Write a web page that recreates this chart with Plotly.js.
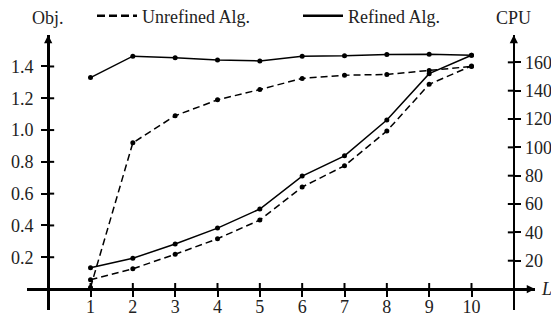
<!DOCTYPE html>
<html><head><meta charset="utf-8">
<script src="https://cdn.plot.ly/plotly-3.0.1.min.js"></script>
<style>html,body{margin:0;padding:0;background:#fff}</style>
</head><body><div id="chart" style="width:551px;height:316px"></div>
<script>
// ---- data ----
const L = [1, 2, 3, 4, 5, 6, 7, 8, 9, 10];
const objUnrefined = [0.01, 0.92, 1.09, 1.19, 1.255, 1.325, 1.345, 1.35, 1.375, 1.40];
const objRefined   = [1.33, 1.465, 1.455, 1.44, 1.435, 1.465, 1.467, 1.475, 1.477, 1.47];
const cpuUnrefined = [6.5, 14.3, 24.5, 35.5, 48.7, 72, 87, 111.5, 144.5, 157.5];
const cpuRefined   = [15, 21.7, 31.8, 43, 56.5, 79.7, 94, 119.3, 152, 165];
const xTicks = [1, 2, 3, 4, 5, 6, 7, 8, 9, 10];
const xTickLabels = ['1', '2', '3', '4', '5', '6', '7', '8', '9', '10'];
const objTicks = [0.2, 0.4, 0.6, 0.8, 1.0, 1.2, 1.4];
const objTickLabels = ['0.2', '0.4', '0.6', '0.8', '1.0', '1.2', '1.4'];
const cpuTicks = [20, 40, 60, 80, 100, 120, 140, 160];
const cpuTickLabels = ['20', '40', '60', '80', '100', '120', '140', '160'];
const seriesNames = ['Unrefined Alg.', 'Refined Alg.'];
const axisTitles = {obj: 'Obj.', cpu: 'CPU', x: 'L'};

// ---- style ----
const FONT = '"Liberation Serif", "DejaVu Serif", serif';
const FS = 18;
const TXT = '#222';
const xMin = 0, xMax = 11;
const xRange = [-0.5, 11.5];
const objRange = [-0.132, 1.598];
const cpuRange = [-14.8, 179.3];
const frac = (v, r) => (v - r[0]) / (r[1] - r[0]);

const mk = {size: 5, color: '#000'};
const traces = [
  {x: L, y: objUnrefined, mode: 'lines+markers', line: {color: '#000', width: 1.5, dash: '7px,4px'}, marker: mk, showlegend: false, xaxis: 'x', yaxis: 'y'},
  {x: L, y: objRefined, mode: 'lines+markers', line: {color: '#000', width: 1.5}, marker: mk, showlegend: false, xaxis: 'x', yaxis: 'y'},
  {x: L, y: cpuUnrefined, mode: 'lines+markers', line: {color: '#000', width: 1.5, dash: '7px,4px'}, marker: mk, showlegend: false, xaxis: 'x', yaxis: 'y2'},
  {x: L, y: cpuRefined, mode: 'lines+markers', line: {color: '#000', width: 1.5}, marker: mk, showlegend: false, xaxis: 'x', yaxis: 'y2'},
  {x: [null], y: [null], mode: 'lines', name: seriesNames[0], line: {color: '#000', width: 2.5, dash: '8px,4px'}, showlegend: true},
  {x: [null], y: [null], mode: 'lines', name: seriesNames[1], line: {color: '#000', width: 2.5}, showlegend: true}
];

const axLine = {showline: true, linecolor: '#000', linewidth: 2.5, showgrid: false, zeroline: false,
  ticks: 'outside', ticklen: 6, tickwidth: 2, tickcolor: '#000', tickfont: {family: FONT, size: FS, color: TXT}};

const shapes = [];
const tickShape = (o) => Object.assign({type: 'line', line: {color: '#000', width: 2}}, o);
xTicks.forEach(t => shapes.push(tickShape({xref: 'x', yref: 'y', ysizemode: 'pixel', yanchor: 0, x0: t, x1: t, y0: 0, y1: 6})));
objTicks.forEach(t => shapes.push(tickShape({xref: 'x', yref: 'y', xsizemode: 'pixel', xanchor: xMin, x0: 0, x1: 6, y0: t, y1: t})));
cpuTicks.forEach(t => shapes.push(tickShape({xref: 'x', yref: 'y2', xsizemode: 'pixel', xanchor: xMax, x0: -6, x1: 0, y0: t, y1: t})));

const arrow = {text: '', showarrow: true, arrowhead: 2, arrowsize: 1.1, arrowwidth: 1.5, arrowcolor: '#000', standoff: 0, startstandoff: 0};
const annotations = [
  Object.assign({}, arrow, {xref: 'x', yref: 'paper', x: xMin, y: 1, ax: 0, ay: 12}),
  Object.assign({}, arrow, {xref: 'x', yref: 'paper', x: xMax, y: 1, ax: 0, ay: 12}),
  Object.assign({}, arrow, {xref: 'paper', yref: 'y', x: 1, y: 0, ax: -12, ay: 0}),
  {text: axisTitles.obj, xref: 'x', yref: 'paper', x: xMin, y: 1.062, yanchor: 'middle', xanchor: 'center', showarrow: false, font: {family: FONT, size: FS, color: TXT}},
  {text: axisTitles.cpu, xref: 'x', yref: 'paper', x: xMax, y: 1.062, yanchor: 'middle', xanchor: 'center', showarrow: false, font: {family: FONT, size: FS, color: TXT}},
  {text: '<i>' + axisTitles.x + '</i>', xref: 'paper', yref: 'y', x: 1, y: 0, xanchor: 'left', yanchor: 'middle', xshift: 4, showarrow: false, font: {family: FONT, size: FS, color: TXT}}
];

const layout = {
  width: 551, height: 316,
  margin: {l: 27, r: 16, t: 35, b: 6, autoexpand: false},
  paper_bgcolor: '#fff', plot_bgcolor: '#fff',
  font: {family: FONT, size: FS, color: TXT},
  showlegend: true,
  legend: {orientation: 'h', x: (92 - 27) / 508, xanchor: 'left', y: (310 - 16) / 275, yanchor: 'middle',
    itemwidth: 40, entrywidth: 151, entrywidthmode: 'pixels', font: {family: FONT, size: FS, color: TXT}, bgcolor: 'rgba(0,0,0,0)', borderwidth: 0},
  xaxis: Object.assign({}, axLine, {range: xRange, anchor: 'free', position: frac(0, objRange), tickvals: xTicks, ticktext: xTickLabels, ticklabelstandoff: -5}),
  yaxis: Object.assign({}, axLine, {range: objRange, anchor: 'free', position: frac(xMin, xRange), side: 'left', tickvals: objTicks, ticktext: objTickLabels, ticklabelstandoff: 4}),
  yaxis2: Object.assign({}, axLine, {range: cpuRange, overlaying: 'y', anchor: 'free', position: frac(xMax, xRange), side: 'right', tickvals: cpuTicks, ticktext: cpuTickLabels, ticklabelstandoff: 0}),
  shapes: shapes,
  annotations: annotations
};

Plotly.newPlot('chart', traces, layout, {displayModeBar: false, staticPlot: true});
</script></body></html>
